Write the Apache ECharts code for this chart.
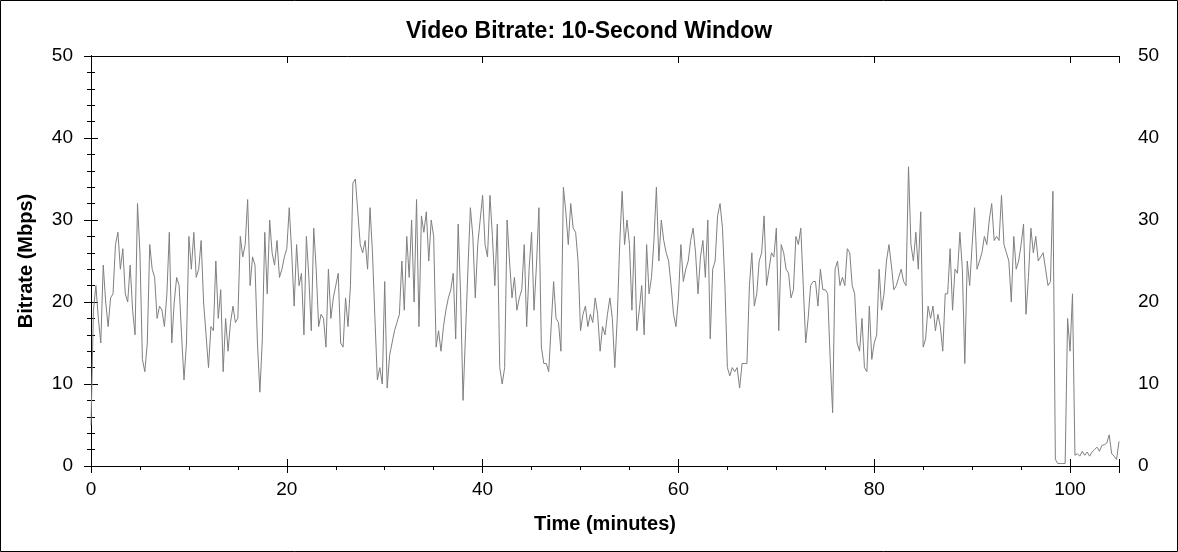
<!DOCTYPE html>
<html>
<head>
<meta charset="utf-8">
<script src="https://cdn.jsdelivr.net/npm/echarts@6/dist/echarts.min.js"></script>
<style>
html,body{margin:0;padding:0;background:#fff;}
#chart{width:1178px;height:552px;}
</style>
</head>
<body>
<div id="chart"></div>
<script>
// Sampling grid of the trace (minutes between samples)
const sampleStepMin = 0.25;
const bitrateMbps = [
  // 0 - 13.5
  5, 19, 22, 18, 15, 24.5, 20, 17, 20.5, 21, 27, 28.5, 24, 26.5, 21, 20, 24.5, 19, 16, 32,
  26, 13, 11.5, 15, 27, 24, 23, 18, 19.5, 19, 17, 21, 28.5, 15, 20, 23, 22, 16, 10.5, 15,
  28, 24, 28.5, 23, 24, 27.5, 20, 16, 12, 17, 16.5, 25, 18, 21.5, 11.5,
  // 13.75 - 27
  18, 14, 17.5, 19.5, 17.5, 18, 28, 25.5, 27, 32.5, 22, 25.5, 24.5, 15, 9, 15.5, 28.5, 21, 30, 26,
  24.5, 27.5, 23, 24, 25.5, 26.5, 31.5, 26, 19.5, 27, 22, 23.5, 16, 28, 23, 16.5, 29, 24, 17, 18.5,
  18, 14.5, 24, 18, 20.5, 22, 23.5, 15, 14.5, 20.5, 17, 22, 34.5, 35,
  // 27.25 - 40
  31, 27, 26, 27.5, 24, 31.5, 26, 18, 10.5, 12, 10, 22.5, 9.5, 13.5, 15, 16.5, 17.5, 18.5, 25, 19,
  28, 23, 30, 20, 32.5, 17, 30.5, 28.5, 31, 25, 30, 28, 14.5, 16.5, 14, 17, 19, 20.5, 21.5, 23.5,
  15.5, 29.5, 21, 8, 16, 24, 31.5, 28, 20.5, 27, 30, 33,
  // 40.25 - 53.5
  27, 25.5, 33, 28, 22, 29.5, 12, 10, 12, 30, 25, 20.5, 23, 19, 20.5, 21.5, 27, 17, 24, 28.5,
  19, 24.5, 31.5, 14.5, 12.5, 12.5, 11.5, 17, 22.5, 18, 17.5, 14, 34, 31, 27, 32, 29, 28.5, 25, 16.5,
  18.5, 19.5, 17, 18.5, 17.5, 20.5, 18.5, 14, 17, 16, 18.5, 20.5, 18, 12,
  // 53.75 - 66.75
  18, 27, 33.5, 27, 30, 27, 19, 28, 16.5, 19, 22, 16, 27, 21, 23, 27.5, 34, 25, 30, 27.5,
  26, 25, 22, 18.5, 17, 20.5, 27, 22.5, 24, 25, 27.5, 29, 26, 21, 25.5, 27.5, 23, 30, 15.5, 24,
  25, 30.5, 32, 29, 22, 12, 11, 12, 11.5, 12, 9.5, 12.5, 12.5,
  // 67 - 80
  12.5, 22, 26, 19.5, 21, 25, 26, 30.5, 22, 24, 26, 25.5, 29, 16.5, 27, 26, 24, 23.5, 20.5, 21.5,
  28, 27, 29, 22, 15, 18, 22, 22.5, 22.5, 19.5, 24, 21.5, 21.5, 21, 13, 6.5, 24, 25, 22, 23,
  22, 26.5, 26, 22, 21, 15, 14, 18, 12, 11.5, 19.5, 13, 15,
  // 80.25 - 93.25
  16, 24, 19, 21, 25, 27, 24.5, 21.5, 22, 23, 24, 22.5, 22, 36.5, 27, 25, 28.5, 24, 31, 14.5,
  15.5, 19.5, 18, 19.5, 16.5, 18.5, 17, 14, 21, 21, 26.5, 19, 24, 23.5, 28.5, 24, 12.5, 25, 22, 27,
  31.5, 24, 25, 26, 28, 27, 30, 32, 27.5, 28, 27.5, 33, 27,
  // 93.5 - 105
  26, 25, 20, 28, 24, 25, 27, 29.5, 18.5, 23, 29, 26, 28, 25, 25.5, 26, 24, 22, 22.5, 33.5,
  0.8, 0.3, 0.3, 0.3, 0.3, 18, 14, 21, 1.3, 1.5, 1.2, 1.8, 1.3, 1.7, 1.2, 1.7, 2, 2.3, 1.8, 2.5,
  2.6, 2.8, 3.8, 1.5, 1.2, 0.8, 3
];
const titleText = 'Video Bitrate: 10-Second Window';
const xAxisTitle = 'Time (minutes)';
const yAxisTitle = 'Bitrate (Mbps)';
const xMin = 0, xMax = 105, xMajor = 20, xMinor = 5;
const yMin = 0, yMax = 50, yMajor = 10;

const FONT = '"Liberation Sans", Arial, sans-serif';
const seriesData = bitrateMbps.map((v, i) => [i * sampleStepMin, v]);

const axisLineBlack = { show: true, lineStyle: { color: '#000', width: 1 } };
const none = { show: false };

function xAx(extra) {
  return Object.assign({
    type: 'value', min: xMin, max: xMax, interval: xMajor,
    axisLine: axisLineBlack, splitLine: none, axisLabel: none, axisTick: none
  }, extra);
}
function yAx(extra) {
  return Object.assign({
    type: 'value', min: yMin, max: yMax, interval: yMajor,
    axisLine: axisLineBlack, splitLine: none, axisLabel: none, axisTick: none
  }, extra);
}

const chart = echarts.init(document.getElementById('chart'), null, { renderer: 'canvas' });
chart.setOption({
  animation: false,
  backgroundColor: '#fff',
  title: {
    text: titleText, left: 'center', top: 15,
    textStyle: { fontFamily: FONT, fontSize: 23, fontWeight: 'bold', color: '#000' }
  },
  grid: { left: 91, right: 59, top: 56, bottom: 86, containLabel: false },
  graphic: [{
    type: 'rect', shape: { x: 0.5, y: 0.5, width: 1177, height: 551 },
    style: { fill: 'none', stroke: '#000', lineWidth: 1 }, silent: true, z: 100
  }],
  xAxis: [
    xAx({
      position: 'bottom',
      name: xAxisTitle, nameLocation: 'middle', nameGap: 48,
      nameTextStyle: { fontFamily: FONT, fontSize: 20, fontWeight: 'bold', color: '#000' },
      axisTick: { show: true, inside: false, length: 7, lineStyle: { color: '#000' } },
      axisLabel: {
        show: true, margin: 14, fontFamily: FONT, fontSize: 19, color: '#000',
        formatter: v => (v % xMajor === 0 ? String(v) : '')
      }
    }),
    xAx({ position: 'bottom', axisTick: { show: true, inside: true, length: 7, lineStyle: { color: '#000' } } }),
    xAx({ position: 'bottom', interval: xMinor, axisTick: { show: true, inside: false, length: 4, lineStyle: { color: '#000' } } }),
    xAx({ position: 'top', interval: xMinor, axisTick: { show: true, inside: true, length: 4, lineStyle: { color: '#000' } } }),
    xAx({ position: 'top', axisTick: { show: true, inside: true, length: 7, lineStyle: { color: '#000' } } })
  ],
  yAxis: [
    yAx({
      position: 'left',
      name: yAxisTitle, nameLocation: 'middle', nameGap: 55, nameRotate: 90,
      nameTextStyle: { fontFamily: FONT, fontSize: 20, fontWeight: 'bold', color: '#000' },
      axisTick: { show: true, inside: false, length: 7, lineStyle: { color: '#000' } },
      minorTick: { show: true, splitNumber: 5, length: 4, lineStyle: { color: '#000' } },
      axisLabel: { show: true, margin: 18, fontFamily: FONT, fontSize: 19, color: '#000' }
    }),
    yAx({
      position: 'left',
      axisTick: { show: true, inside: true, length: 7, lineStyle: { color: '#000' } },
      minorTick: { show: true, splitNumber: 5, length: 4, lineStyle: { color: '#000' } }
    }),
    yAx({
      position: 'right',
      axisTick: { show: true, inside: false, length: 7, lineStyle: { color: '#000' } },
      minorTick: { show: true, splitNumber: 5, length: 3, lineStyle: { color: '#000' } },
      axisLabel: { show: true, margin: 19, fontFamily: FONT, fontSize: 19, color: '#000' }
    }),
    yAx({
      position: 'right',
      axisTick: { show: true, inside: true, length: 7, lineStyle: { color: '#000' } },
      minorTick: { show: true, splitNumber: 5, length: 3, lineStyle: { color: '#000' } }
    })
  ],
  series: [{
    type: 'line', xAxisIndex: 0, yAxisIndex: 0,
    data: seriesData, showSymbol: false, symbol: 'none', sampling: null,
    lineStyle: { color: '#808080', width: 1 }, z: 2
  }]
});
</script>
</body>
</html>
